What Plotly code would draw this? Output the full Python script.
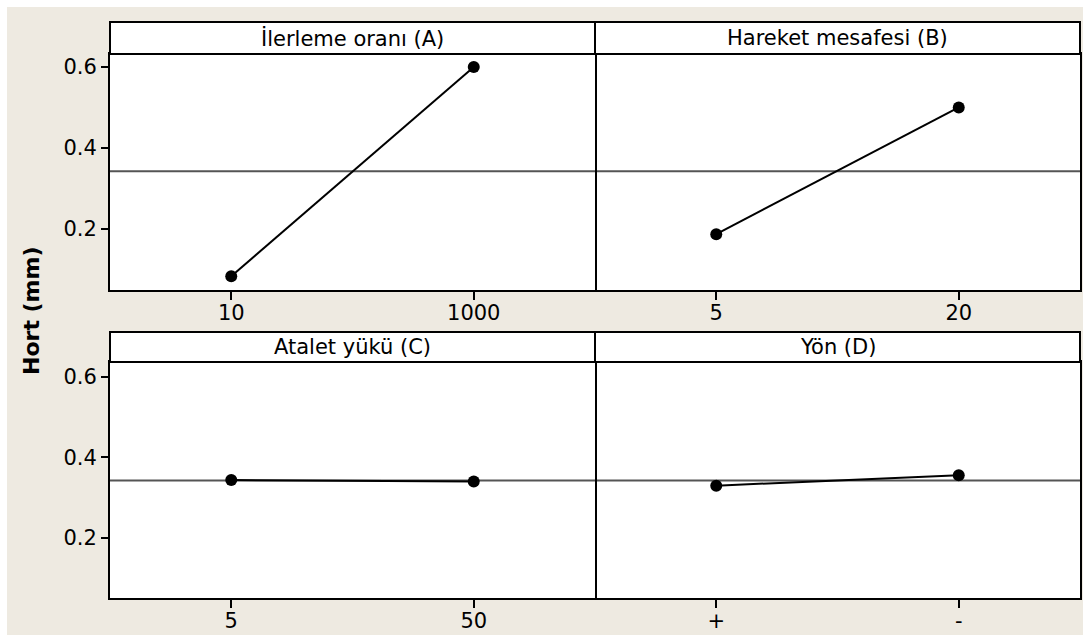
import plotly.graph_objects as go

# ---- data ----
titles = ["İlerleme oranı (A)", "Hareket mesafesi (B)", "Atalet yükü (C)", "Yön (D)"]
levels_A = ["10", "1000"]
levels_B = ["5", "20"]
levels_C = ["5", "50"]
levels_D = ["+", "-"]
means_A = [0.083, 0.600]
means_B = [0.187, 0.500]
means_C = [0.344, 0.340]
means_D = [0.330, 0.356]
y_ticks = [0.2, 0.4, 0.6]
y_title = "Hort (mm)"

levels = [levels_A, levels_B, levels_C, levels_D]
means = [means_A, means_B, means_C, means_D]
grand_mean = sum(means_A + means_B + means_C + means_D) / 8.0

# ---- geometry (pixels) ----
W, H = 1083, 635
L, R, T, B = 110, 1080, 22, 598
PW, PH = R - L, B - T

def fx(px):
    return (px - L) / PW

def fy(py):
    return (B - py) / PH

BG = "#EEEAE1"
FONT = "DejaVu Sans"
FS = 21

fig = go.Figure()

xdoms = [[0, 0.5], [0.5, 1]]
ydoms = [[fy(290), fy(54)], [fy(598), fy(362)]]
strips = [(22, 54), (332, 362)]
yranges = [[0.049, 0.632], [0.051, 0.637]]

for i in range(4):
    r, c = divmod(i, 2)
    n = i + 1
    xa = "xaxis" if n == 1 else f"xaxis{n}"
    ya = "yaxis" if n == 1 else f"yaxis{n}"
    xs = "x" if n == 1 else f"x{n}"
    ys = "y" if n == 1 else f"y{n}"
    fig.add_trace(go.Scatter(
        x=levels[i], y=means[i], mode="lines+markers",
        line=dict(color="black", width=2),
        marker=dict(color="black", size=12),
        xaxis=xs, yaxis=ys, showlegend=False, cliponaxis=False,
        hoverinfo="skip"))
    fig.layout[xa] = dict(
        domain=xdoms[c], anchor=ys, type="category", range=[-0.5, 1.5],
        showline=True, mirror=True, linecolor="black", linewidth=2,
        ticks="outside", ticklen=8, tickwidth=2, tickcolor="black",
        ticklabelstandoff=-5,
        showgrid=False, zeroline=False, fixedrange=True, automargin=False,
        tickfont=dict(family=FONT, size=FS, color="black"))
    fig.layout[ya] = dict(
        domain=ydoms[r], anchor=xs, range=yranges[r],
        tickvals=y_ticks, ticktext=[f"{v:.1f}" for v in y_ticks],
        showticklabels=(c == 0), ticks="outside" if c == 0 else "",
        side="left" if c == 0 else "right",
        ticklen=7, tickwidth=2, tickcolor="black",
        showline=True, mirror=(c == 0), linecolor="black", linewidth=2,
        showgrid=False, zeroline=False, fixedrange=True, automargin=False,
        tickfont=dict(family=FONT, size=FS, color="black"))
    # grand-mean reference line
    fig.add_shape(type="line", xref=f"{xs} domain", yref=ys,
                  x0=0, x1=1, y0=grand_mean, y1=grand_mean,
                  line=dict(color="#555555", width=2), layer="below")
    # title strip
    s0, s1 = strips[r]
    fig.add_shape(type="rect", xref="paper", yref="paper",
                  x0=xdoms[c][0], x1=xdoms[c][1], y0=fy(s1), y1=fy(s0),
                  fillcolor="white", line=dict(color="black", width=2), layer="above")
    fig.add_annotation(text=titles[i], xref="paper", yref="paper",
                       x=(xdoms[c][0] + xdoms[c][1]) / 2, y=(fy(s0) + fy(s1)) / 2,
                       xanchor="center", yanchor="middle", showarrow=False,
                       font=dict(family=FONT, size=FS, color="black"))

# white outer border (top and left)
fig.add_shape(type="rect", xref="paper", yref="paper",
              x0=fx(0), x1=fx(W), y0=fy(7), y1=fy(0),
              fillcolor="white", line=dict(width=0), layer="below")
fig.add_shape(type="rect", xref="paper", yref="paper",
              x0=fx(0), x1=fx(7), y0=fy(H), y1=fy(0),
              fillcolor="white", line=dict(width=0), layer="below")

fig.add_annotation(text=f"<b>{y_title}</b>", xref="paper", yref="paper",
                   x=fx(31), y=fy(311), textangle=-90, showarrow=False,
                   xanchor="center", yanchor="middle",
                   font=dict(family=FONT, size=22, color="black"))

fig.update_layout(
    width=W, height=H,
    margin=dict(l=L, r=W - R, t=T, b=H - B, autoexpand=False),
    paper_bgcolor=BG, plot_bgcolor="white",
    showlegend=False, hovermode=False,
)

fig.write_html(
    "out.html",
    config={"displayModeBar": False, "responsive": False},
    post_script=("document.documentElement.style.margin='0';"
                 "document.body.style.margin='0';"
                 "document.body.style.overflow='hidden';"
                 "document.body.style.background='" + BG + "';"),
)
